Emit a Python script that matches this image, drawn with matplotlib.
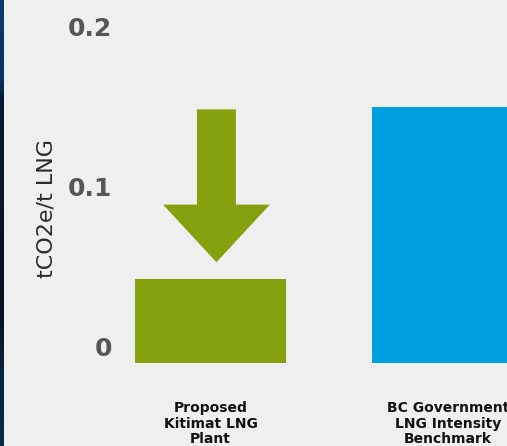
import matplotlib
matplotlib.use("Agg")
import matplotlib.pyplot as plt
import numpy as np
from matplotlib.patches import FancyArrow
from matplotlib.colors import LinearSegmentedColormap
import matplotlib.transforms as mtransforms

# ---- data ----
categories = ["Proposed\nKitimat LNG\nPlant", "BC Government\nLNG Intensity\nBenchmark"]
values = [0.0525, 0.16]
bar_colors = ["#86a10e", "#009fe0"]
tick_values = [0, 0.1, 0.2]
tick_labels = ["0", "0.1", "0.2"]
ylabel = "tCO2e/t LNG"

W, H, DPI = 507, 446, 100
fig = plt.figure(figsize=(W / DPI, H / DPI), dpi=DPI)
fig.patch.set_facecolor("#eef0ef")

ax = fig.add_axes([0, 0, 1, 1])
ax.set_facecolor("#eef0ef")
ax.axis("off")

# pixel mapping: x center of cat0 at 210.5px, spacing 237.5px; y=0 at 363px from top, 0.1 = 160px
ax.set_xlim((0 - 210.5) / 237.5, (W - 210.5) / 237.5)
ax.set_ylim((363 - H) / 1600, 363 / 1600)

xs = np.arange(len(categories))
ax.bar(xs, values, width=0.636, color=bar_colors, zorder=2)

# downward arrow above the first bar, from benchmark level toward the Kitimat value
start = values[1] - 0.0015
end = values[0] + 0.0105
ax.add_patch(FancyArrow(xs[0] + 0.025, start, 0, end - start, width=0.164,
                        head_width=0.45, head_length=0.036,
                        length_includes_head=True, color=bar_colors[0], lw=0, zorder=3))

# y tick labels
off = mtransforms.ScaledTranslation(0, 14 / DPI, fig.dpi_scale_trans)
xlab = ax.transAxes.inverted().transform(ax.transData.transform((0, 0)))[0]
tr = mtransforms.blended_transform_factory(ax.transAxes, ax.transData) + off
for v, lab in zip(tick_values, tick_labels):
    ax.text(112 / W, v, lab, transform=tr, ha="right", va="center",
            fontsize=18, fontweight="bold", color="#555657", family="DejaVu Sans")

# y axis title
ax.text(46 / W, 1 - 208 / H, ylabel, transform=ax.transAxes, rotation=90,
        ha="center", va="center", fontsize=16, color="#2b2b2b", family="DejaVu Sans")

# category labels
ltr = mtransforms.blended_transform_factory(ax.transData, ax.transAxes)
for x, c in zip(xs, categories):
    ax.text(x, 1 - 401 / H, c, transform=ltr, ha="center", va="top",
            fontsize=10, fontweight="bold", color="#111111", linespacing=1.15,
            family="DejaVu Sans")

# dark photo strip on the left edge
sax = fig.add_axes([0, 0, 4 / W, 1])
sax.axis("off")
cmap = LinearSegmentedColormap.from_list(
    "strip", [(0, "#0b3a70"), (0.17, "#0a3466"), (0.22, "#0a1a30"), (0.7, "#07121c"),
              (0.85, "#0a2440"), (1, "#0a2a4a")])
sax.imshow(np.linspace(0, 1, 200).reshape(-1, 1), aspect="auto", cmap=cmap,
           extent=[0, 1, 1, 0])
sax.set_xlim(0, 1)
sax.set_ylim(1, 0)

fig.savefig("out.png", dpi=DPI, facecolor=fig.get_facecolor())
